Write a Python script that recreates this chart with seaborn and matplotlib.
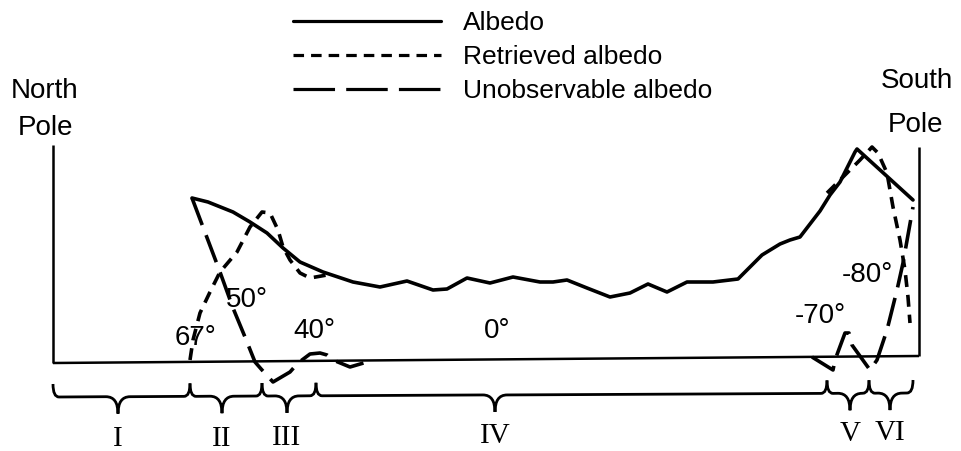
import numpy as np
import pandas as pd
import matplotlib
matplotlib.use("Agg")
import matplotlib.pyplot as plt
from matplotlib.path import Path
from matplotlib.patches import PathPatch
from matplotlib.lines import Line2D
import seaborn as sns

# ---------------- data (diagram units: x along the meridian, y downward) ----------------
albedo_x = [192, 208, 233, 250, 267, 283, 300, 323, 353, 380, 407, 433, 447, 467, 490, 513,
            540, 553, 567, 587, 610, 630, 648, 667, 687, 713, 738, 762, 780, 790, 800, 820,
            830, 840, 855, 857, 913]
albedo_y = [198, 202, 212, 222, 233, 248, 262, 272, 282, 287, 281, 290, 289, 278, 283, 277,
            282, 282, 280, 288, 297, 293, 284, 292, 282, 282, 279, 255, 244, 240, 237, 211,
            195, 182, 152, 149, 200]

retrieved_n_x = [190, 193, 200, 210, 220, 237, 250, 262, 270, 278, 283, 290, 300, 310, 327]
retrieved_n_y = [360, 340, 313, 292, 272, 252, 227, 212, 213, 230, 247, 260, 273, 278, 275]
retrieved_s_x = [827, 843, 860, 872, 878, 887, 893, 900, 905, 908, 910]
retrieved_s_y = [193, 177, 160, 147, 153, 173, 207, 240, 270, 297, 323]

unobs_n_x = [192, 206, 220, 233, 245, 255, 262, 273, 290, 298, 310, 320, 327, 333, 350, 367]
unobs_n_y = [198, 235, 272, 308, 337, 362, 370, 382, 372, 363, 354, 353, 355, 360, 367, 362]
unobs_s_x = [812, 833, 835, 845, 849, 852, 870, 877, 887, 897, 903, 913]
unobs_s_y = [357, 370, 360, 333, 333, 345, 370, 360, 330, 290, 263, 207]

series_names = ["Albedo", "Retrieved albedo", "Unobservable albedo"]

degree_labels = ["67°", "50°", "40°", "0°", "-70°", "-80°"]
degree_x = [196, 247, 314, 497, 820, 867]
degree_y = [345, 307, 338, 338, 323, 282]

region_labels = ["I", "II", "III", "IV", "V", "VI"]
region_bounds = [53, 190, 262, 316, 827, 869, 913]
region_tips = [118, 222, 287, 495, 850, 890]

frame_left = ([53, 53], [145, 363])
frame_right = ([919, 919], [147, 356])
frame_base = ([53, 919], [363, 356])

# ---------------- figure ----------------
sns.set_theme(style="white")
plt.rcParams["font.family"] = ["Liberation Sans", "DejaVu Sans"]
plt.rcParams["text.color"] = "black"
plt.rcParams["legend.labelcolor"] = "black"

fig = plt.figure(figsize=(9.61, 4.51), dpi=100)
ax = fig.add_axes([0, 0, 1, 1])

frames = []
def add(xs, ys, name, seg):
    frames.append(pd.DataFrame({"x": xs, "y": ys, "series": name, "seg": seg}))

add(albedo_x, albedo_y, series_names[0], "a")
add(retrieved_n_x, retrieved_n_y, series_names[1], "rn")
add(retrieved_s_x, retrieved_s_y, series_names[1], "rs")
add(unobs_n_x, unobs_n_y, series_names[2], "un")
add(unobs_s_x, unobs_s_y, series_names[2], "us")
df = pd.concat(frames, ignore_index=True)

dash_map = {series_names[0]: "", series_names[1]: (3.3, 2.2), series_names[2]: (8.0, 3.0)}
sns.lineplot(data=df, x="x", y="y", style="series", units="seg", estimator=None,
             sort=False, dashes=dash_map, color="black", lw=2.6, legend=False, ax=ax)

# frame
for fx, fy in (frame_left, frame_right, frame_base):
    ax.plot(fx, fy, color="black", lw=1.8, solid_capstyle="butt")

ax.set_xlim(0, 961)
ax.set_ylim(451, 0)
ax.axis("off")

# braces
def y_brace(x):
    return 397 - 4 * (x - 53) / 860

def brace(x0, x1, xm, tip=13, dip=17, r_end=6, r_mid=12):
    y0, y1, ym = y_brace(x0), y_brace(x1), y_brace(xm)
    verts = [(x0, y0 - tip), (x0, y0), (x0 + r_end, y0),
             (xm - r_mid, ym), (xm, ym), (xm, ym + dip),
             (xm, ym), (xm + r_mid, ym),
             (x1 - r_end, y1), (x1, y1), (x1, y1 - tip)]
    codes = [Path.MOVETO, Path.CURVE3, Path.CURVE3,
             Path.LINETO, Path.CURVE3, Path.CURVE3,
             Path.CURVE3, Path.CURVE3,
             Path.LINETO, Path.CURVE3, Path.CURVE3]
    ax.add_patch(PathPatch(Path(verts, codes), fill=False, lw=2.0, ec="black"))

for i, lab in enumerate(region_labels):
    brace(region_bounds[i], region_bounds[i + 1], region_tips[i])
    xl = region_tips[i]
    ax.text(xl, 447 - 7 * (xl - 53) / 860, lab, ha="center", va="baseline",
            fontsize=21, family=["Liberation Serif", "DejaVu Serif"], color="black")

# degree labels
for lab, x, y in zip(degree_labels, degree_x, degree_y):
    ax.text(x, y, lab, ha="center", va="baseline", fontsize=20, color="black")

# poles
ax.text(45, 98, "North", ha="center", va="baseline", fontsize=20, color="black")
ax.text(45, 135, "Pole", ha="center", va="baseline", fontsize=20, color="black")
ax.text(917, 88, "South", ha="center", va="baseline", fontsize=20, color="black")
ax.text(916, 132, "Pole", ha="center", va="baseline", fontsize=20, color="black")

# legend
handles = [Line2D([], [], color="black", lw=2.3),
           Line2D([], [], color="black", lw=2.3, linestyle=(0, (3.3, 2.2))),
           Line2D([], [], color="black", lw=2.3, linestyle=(0, (13, 3.5)))]
ax.legend(handles, series_names, loc="center left", bbox_to_anchor=(293, 57),
          bbox_transform=ax.transData, frameon=False, fontsize=19,
          handlelength=5.6, handletextpad=0.85, labelspacing=0.38,
          borderpad=0, borderaxespad=0, labelcolor="black")

fig.savefig("out.png", dpi=100)
